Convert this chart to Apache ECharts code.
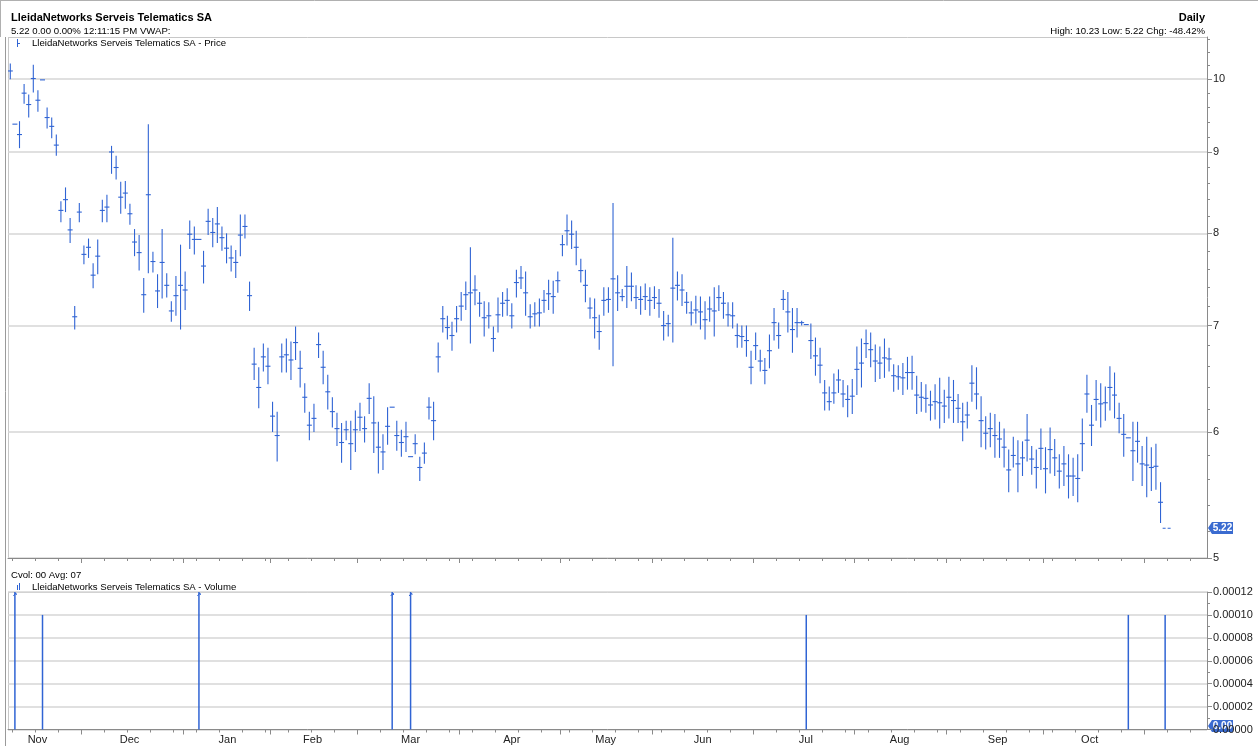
<!DOCTYPE html>
<html lang="en">
<head>
<meta charset="UTF-8">
<title>LleidaNetworks Serveis Telematics SA</title>
<style>
  html, body { margin: 0; padding: 0; background: #fff; }
  #main { width: 1258px; height: 746px; }
</style>
</head>
<body>
<div id="main"></div>
<script src="https://cdn.jsdelivr.net/npm/echarts@6/dist/echarts.min.js"></script>
<script>
// daily bars, one slot per trading day
var high = [10.23, 9.37, 9.41, 9.93, 9.78, 10.21, 9.84, 9.99, 9.60, 9.46,
  9.23, 8.38, 8.55, 8.18, 7.20, 8.36, 7.86, 7.94, 7.66, 7.93,
  8.40, 8.46, 9.08, 8.95, 8.62, 8.63, 8.35, 8.05, 7.98, 7.50,
  9.37, 7.79, 7.54, 8.05, 7.55, 7.25, 7.52, 7.87, 7.57, 8.15,
  8.08, 7.93, 7.80, 8.29, 8.18, 8.31, 8.08, 8.00, 7.86, 7.81,
  8.22, 8.22, 7.46, 6.78, 6.59, 6.82, 6.78, 6.27, 6.18, 6.82,
  6.87, 6.84, 6.99, 6.75, 6.44, 6.18, 6.25, 6.93, 6.75, 6.52,
  6.31, 6.17, 6.08, 6.10, 6.10, 6.19, 6.26, 6.14, 6.44, 6.32,
  6.09, 5.98, 6.22, 6.22, 6.10, 6.02, 6.09, 5.79, 5.98, 5.79,
  5.91, 6.31, 6.27, 6.83, 7.20, 7.10, 7.04, 7.20, 7.35, 7.46,
  7.84, 7.53, 7.35, 7.25, 7.24, 6.99, 7.29, 7.35, 7.39, 7.23,
  7.59, 7.63, 7.57, 7.22, 7.24, 7.28, 7.37, 7.48, 7.47, 7.57,
  7.98, 8.22, 8.15, 8.03, 7.71, 7.59, 7.29, 7.28, 7.11, 7.40,
  7.40, 8.36, 7.53, 7.38, 7.63, 7.56, 7.42, 7.41, 7.44, 7.40,
  7.41, 7.38, 7.15, 7.11, 7.95, 7.57, 7.54, 7.35, 7.25, 7.31,
  7.30, 7.25, 7.30, 7.40, 7.42, 7.35, 7.24, 7.24, 7.02, 7.00,
  7.00, 6.75, 6.93, 6.76, 6.68, 6.91, 7.18, 7.03, 7.37, 7.35,
  7.18, 7.18, 7.05, 7.01, 7.02, 6.88, 6.78, 6.47, 6.41, 6.53,
  6.57, 6.47, 6.42, 6.48, 6.79, 6.87, 6.96, 6.93, 6.81, 6.79,
  6.87, 6.78, 6.62, 6.61, 6.63, 6.69, 6.70, 6.51, 6.45, 6.43,
  6.37, 6.43, 6.49, 6.38, 6.50, 6.47, 6.34, 6.26, 6.27, 6.61,
  6.59, 6.32, 6.14, 6.17, 6.16, 6.09, 6.03, 5.85, 5.96, 5.93,
  5.92, 6.16, 5.88, 5.85, 6.03, 5.87, 6.04, 5.94, 5.81, 5.88,
  5.81, 5.78, 5.81, 6.12, 6.52, 6.24, 6.47, 6.44, 6.41, 6.60,
  6.54, 6.26, 6.16, 5.95, 6.09, 6.09, 5.88, 5.96, 5.87, 5.90,
  5.58, 5.22];
var low = [10.00, 9.37, 9.05, 9.65, 9.46, 9.81, 9.54, 9.99, 9.31, 9.18,
  8.95, 8.13, 8.25, 7.89, 6.96, 8.13, 7.65, 7.72, 7.39, 7.54,
  8.13, 8.13, 8.72, 8.65, 8.23, 8.29, 8.10, 7.74, 7.58, 7.13,
  7.55, 7.56, 7.18, 7.28, 7.29, 7.04, 7.10, 6.96, 7.16, 7.82,
  7.76, 7.93, 7.44, 7.98, 7.84, 7.89, 7.80, 7.66, 7.57, 7.50,
  7.74, 7.94, 7.15, 6.47, 6.21, 6.55, 6.43, 6.00, 5.75, 6.54,
  6.54, 6.47, 6.66, 6.40, 6.17, 5.93, 6.00, 6.68, 6.43, 6.20,
  6.04, 5.88, 5.74, 5.93, 5.68, 5.83, 6.01, 5.91, 6.16, 5.82,
  5.65, 5.68, 5.89, 6.22, 5.84, 5.79, 5.83, 5.79, 5.81, 5.59,
  5.73, 6.11, 5.93, 6.54, 6.93, 6.86, 6.75, 6.93, 7.05, 7.16,
  6.82, 7.21, 7.09, 6.89, 6.97, 6.74, 6.93, 7.09, 7.10, 6.97,
  7.29, 7.38, 7.10, 6.97, 6.99, 6.99, 7.13, 7.16, 7.12, 7.34,
  7.74, 7.86, 7.82, 7.64, 7.45, 7.24, 7.07, 6.87, 6.76, 7.10,
  7.13, 6.60, 7.15, 7.25, 7.18, 7.25, 7.17, 7.11, 7.16, 7.10,
  7.17, 7.08, 6.85, 6.89, 6.83, 7.26, 7.20, 7.12, 7.00, 7.02,
  6.96, 6.86, 7.04, 6.89, 7.15, 7.07, 6.99, 6.97, 6.78, 6.78,
  6.69, 6.43, 6.66, 6.55, 6.43, 6.58, 6.85, 6.77, 7.16, 6.93,
  6.73, 6.88, 7.00, 7.01, 6.67, 6.51, 6.44, 6.19, 6.19, 6.25,
  6.35, 6.22, 6.13, 6.16, 6.33, 6.40, 6.68, 6.59, 6.45, 6.48,
  6.49, 6.55, 6.36, 6.38, 6.33, 6.38, 6.38, 6.16, 6.18, 6.17,
  6.10, 6.11, 6.03, 6.08, 6.12, 6.08, 6.08, 5.92, 6.03, 6.27,
  6.20, 5.87, 5.85, 5.87, 5.78, 5.78, 5.70, 5.50, 5.70, 5.50,
  5.63, 5.75, 5.64, 5.53, 5.68, 5.49, 5.65, 5.63, 5.53, 5.55,
  5.45, 5.47, 5.42, 5.67, 6.17, 5.88, 6.10, 6.04, 6.10, 6.19,
  6.12, 5.99, 5.79, 5.95, 5.59, 5.74, 5.55, 5.46, 5.51, 5.52,
  5.26, 5.22];
var close = [10.12, 9.37, 9.23, 9.80, 9.64, 10.01, 9.70, 9.99, 9.46, 9.34,
  9.09, 8.27, 8.40, 8.04, 7.09, 8.25, 7.76, 7.84, 7.53, 7.74,
  8.27, 8.31, 9.00, 8.80, 8.43, 8.48, 8.23, 7.90, 7.78, 7.32,
  8.46, 7.68, 7.36, 7.67, 7.42, 7.15, 7.31, 7.42, 7.37, 7.99,
  7.93, 7.93, 7.63, 8.14, 8.01, 8.11, 7.95, 7.83, 7.72, 7.67,
  7.98, 8.08, 7.31, 6.62, 6.40, 6.69, 6.60, 6.14, 5.97, 6.69,
  6.71, 6.66, 6.83, 6.58, 6.31, 6.06, 6.12, 6.81, 6.59, 6.36,
  6.18, 6.03, 5.91, 6.02, 5.90, 6.02, 6.13, 6.03, 6.30, 6.08,
  5.87, 5.83, 6.05, 6.22, 5.97, 5.91, 5.96, 5.79, 5.90, 5.70,
  5.82, 6.22, 6.10, 6.69, 7.07, 6.98, 6.90, 7.07, 7.20, 7.32,
  7.34, 7.37, 7.23, 7.08, 7.10, 6.87, 7.11, 7.23, 7.26, 7.10,
  7.45, 7.50, 7.34, 7.09, 7.12, 7.13, 7.26, 7.33, 7.30, 7.47,
  7.87, 8.03, 7.99, 7.84, 7.58, 7.42, 7.18, 7.08, 6.94, 7.26,
  7.27, 7.49, 7.34, 7.30, 7.41, 7.41, 7.29, 7.27, 7.30, 7.26,
  7.29, 7.23, 7.00, 7.02, 7.39, 7.42, 7.37, 7.24, 7.13, 7.16,
  7.14, 7.06, 7.17, 7.15, 7.29, 7.23, 7.11, 7.10, 6.90, 6.89,
  6.85, 6.59, 6.80, 6.65, 6.56, 6.75, 7.03, 6.90, 7.27, 7.14,
  6.96, 7.03, 7.03, 7.01, 6.85, 6.70, 6.61, 6.35, 6.27, 6.35,
  6.47, 6.34, 6.29, 6.32, 6.57, 6.63, 6.82, 6.76, 6.65, 6.63,
  6.68, 6.67, 6.51, 6.50, 6.49, 6.54, 6.54, 6.33, 6.31, 6.30,
  6.24, 6.27, 6.26, 6.23, 6.31, 6.28, 6.21, 6.09, 6.15, 6.44,
  6.34, 6.10, 5.99, 6.03, 5.97, 5.94, 5.87, 5.68, 5.80, 5.73,
  5.78, 5.93, 5.77, 5.70, 5.86, 5.69, 5.85, 5.78, 5.67, 5.73,
  5.63, 5.63, 5.61, 5.90, 6.34, 6.06, 6.29, 6.25, 6.26, 6.40,
  6.33, 6.12, 5.98, 5.95, 5.84, 5.92, 5.73, 5.72, 5.70, 5.71,
  5.42, 5.22];

// volume: only a handful of days traded
var volDay = [1, 7, 41, 83, 87, 173, 243, 251];
var volume = [0.0002, 0.0001, 0.0002, 0.0002, 0.0002, 0.0001, 0.0001, 0.0001];

var monthNames = ['Nov', 'Dec', 'Jan', 'Feb', 'Mar', 'Apr', 'May', 'Jun', 'Jul', 'Aug', 'Sep', 'Oct'];
var monthMid = [5.9, 25.9, 47.2, 65.7, 87, 109, 129.4, 150.5, 172.9, 193.3, 214.6, 234.6];
var monthStart = [15.5, 37.5, 56.5, 75.5, 97.5, 119.5, 139.5, 161.5, 183.5, 203.5, 224.5, 246.5];
var priceTicks = [5, 6, 7, 8, 9, 10];
var priceMinor = [5.2, 5.4, 5.6, 5.8, 6.2, 6.4, 6.6, 6.8, 7.2, 7.4, 7.6, 7.8,
  8.2, 8.4, 8.6, 8.8, 9.2, 9.4, 9.6, 9.8, 10.2, 10.4, 10.6];
var volMax = 0.00012;

var lastPrice = 5.22;
var FONT = '"Liberation Sans", Arial, sans-serif';
var BLUE = '#3064d4';
var X_MIN = -0.5, X_MAX = 260.1;

// weekly minor ticks on the time axis
var weekTicks = [];
for (var w = 0; w < 52; w++) {
  weekTicks.push(0.5 + 5 * w + (w >= 24 ? 1 : 0));
}

var bars = [];
for (var i = 0; i < high.length; i++) {
  bars.push([i, high[i], low[i], close[i]]);
}
var vols = [];
for (var k = 0; k < volDay.length; k++) {
  vols.push([volDay[k], volume[k]]);
}

var chart = echarts.init(document.getElementById('main'));

function renderBar(params, api) {
  var i = api.value(0);
  var h = api.coord([i, api.value(1)]);
  var l = api.coord([i, api.value(2)]);
  var c = api.coord([i, api.value(3)]);
  var x = h[0];
  var last = params.dataIndex === high.length - 1;
  var kids = [];
  if (l[1] - h[1] > 0.5) {
    kids.push({ type: 'line', shape: { x1: x, y1: h[1], x2: x, y2: l[1] },
      style: { stroke: BLUE, lineWidth: 1.1 } });
  }
  kids.push({ type: 'line',
    shape: { x1: x - 2.5, y1: c[1], x2: last ? x + 7 : x + 2.5, y2: c[1] },
    style: { stroke: BLUE, lineWidth: 1.1, lineDash: last ? [3, 2] : null } });
  return { type: 'group', children: kids };
}

// little up-arrow on volume bars that run past the top of the panel
function renderClip(params, api) {
  if (api.value(1) <= volMax) return null;
  var p = api.coord([api.value(0), volMax]);
  return { type: 'polyline', shape: { points: [[p[0] - 1.5, p[1] + 4], [p[0] + 1, p[1] + 1], [p[0] + 1.5, p[1] + 3]] },
    style: { stroke: BLUE, lineWidth: 1, fill: null } };
}

var axisGrey = '#8a8a8a';
var gridGrey = '#d6d6d6';

function timeAxis(grid, ticks, len, withLine, labels) {
  return {
    type: 'value', gridIndex: grid, min: X_MIN, max: X_MAX, position: 'bottom', offset: 0,
    axisLine: { show: withLine, onZero: false, lineStyle: { color: axisGrey } },
    axisTick: { show: true, customValues: ticks, length: len, lineStyle: { color: axisGrey } },
    axisLabel: labels || { show: false },
    splitLine: { show: false }
  };
}

var monthLabels = {
  show: true, customValues: monthMid, margin: 5,
  color: '#222', fontSize: 11, fontFamily: FONT,
  formatter: function (v) {
    var best = 0;
    for (var m = 0; m < monthMid.length; m++) {
      if (Math.abs(monthMid[m] - v) < Math.abs(monthMid[best] - v)) best = m;
    }
    return monthNames[best];
  }
};

var option = {
  animation: false,
  backgroundColor: '#fff',
  textStyle: { fontFamily: FONT },
  grid: [
    { left: 8, top: 37, width: 1199, height: 521 },
    { left: 8, top: 592, width: 1199, height: 137.5 }
  ],
  xAxis: [
    timeAxis(0, monthStart, 5, true),
    timeAxis(1, monthStart, 5, true, monthLabels),
    timeAxis(0, weekTicks, 3, false),
    timeAxis(1, weekTicks, 3, false)
  ],
  yAxis: [
    {
      type: 'log', logBase: 10, gridIndex: 0, position: 'right', min: 5, max: 10.63,
      axisLine: { show: true, onZero: false, lineStyle: { color: axisGrey } },
      axisTick: { show: true, customValues: priceTicks, length: 5, lineStyle: { color: axisGrey } },
      axisLabel: { show: true, customValues: priceTicks, margin: 6, color: '#222', fontSize: 11, fontFamily: FONT },
      splitLine: { show: true, lineStyle: { color: gridGrey, width: 1.5 } }
    },
    {
      type: 'value', gridIndex: 1, position: 'right', min: 0, max: volMax, interval: 0.00002,
      axisLine: { show: true, onZero: false, lineStyle: { color: axisGrey } },
      axisTick: { show: true, length: 5, lineStyle: { color: axisGrey } },
      minorTick: { show: true, splitNumber: 2, length: 3, lineStyle: { color: axisGrey } },
      axisLabel: {
        show: true, margin: 6, color: '#222', fontSize: 11, fontFamily: FONT,
        formatter: function (v) { return v.toFixed(5); }
      },
      splitLine: { show: true, lineStyle: { color: gridGrey, width: 1.5 } }
    },
    {
      type: 'log', logBase: 10, gridIndex: 0, position: 'right', offset: 0, min: 5, max: 10.63,
      axisLine: { show: false, onZero: false },
      axisTick: { show: true, customValues: priceMinor, length: 3, lineStyle: { color: axisGrey } },
      axisLabel: { show: false },
      splitLine: { show: false }
    }
  ],
  series: [
    {
      name: 'Price', type: 'custom', xAxisIndex: 0, yAxisIndex: 0,
      renderItem: renderBar, data: bars, clip: true
    },
    {
      name: 'Volume', type: 'bar', xAxisIndex: 1, yAxisIndex: 1,
      data: vols, barWidth: 1.5, clip: true,
      itemStyle: { color: BLUE }
    },
    {
      name: 'Volume clip', type: 'custom', xAxisIndex: 1, yAxisIndex: 1,
      renderItem: renderClip, data: vols, clip: false, z: 5
    }
  ],
  graphic: [
    { type: 'line', shape: { x1: 8, y1: 37.5, x2: 1207, y2: 37.5 }, style: { stroke: '#c8c8c8', lineWidth: 1 } },
    { type: 'line', shape: { x1: 8.5, y1: 37, x2: 8.5, y2: 558 }, style: { stroke: '#c8c8c8', lineWidth: 1 } },
    { type: 'line', shape: { x1: 8, y1: 592.5, x2: 1207, y2: 592.5 }, style: { stroke: '#c8c8c8', lineWidth: 1 } },
    { type: 'line', shape: { x1: 8.5, y1: 592, x2: 8.5, y2: 730 }, style: { stroke: '#c8c8c8', lineWidth: 1 } },
    { type: 'line', shape: { x1: 5.5, y1: 37, x2: 5.5, y2: 746 }, style: { stroke: '#9a9a9a', lineWidth: 1 } },
    { type: 'line', shape: { x1: 0, y1: 0.5, x2: 1258, y2: 0.5 }, style: { stroke: '#b0b0b0', lineWidth: 1 } },
    { type: 'line', shape: { x1: 0.5, y1: 0, x2: 0.5, y2: 37 }, style: { stroke: '#b0b0b0', lineWidth: 1 } },
    { type: 'text', x: 11, y: 18, style: { text: 'LleidaNetworks Serveis Telematics SA', font: 'bold 11px ' + FONT, fill: '#000', verticalAlign: 'middle' } },
    { type: 'text', x: 11, y: 31, style: { text: '5.22 0.00 0.00% 12:11:15 PM VWAP:', font: '9.6px ' + FONT, fill: '#000', verticalAlign: 'middle' } },
    { type: 'text', x: 1205, y: 18, style: { text: 'Daily', font: 'bold 11px ' + FONT, fill: '#000', align: 'right', verticalAlign: 'middle' } },
    { type: 'text', x: 1205, y: 31, style: { text: 'High: 10.23 Low: 5.22 Chg: -48.42%', font: '9.6px ' + FONT, fill: '#000', align: 'right', verticalAlign: 'middle' } },
    { type: 'line', shape: { x1: 17.5, y1: 39, x2: 17.5, y2: 47 }, style: { stroke: BLUE, lineWidth: 1 } },
    { type: 'line', shape: { x1: 17, y1: 43.5, x2: 20, y2: 43.5 }, style: { stroke: BLUE, lineWidth: 1 } },
    { type: 'text', x: 32, y: 43, style: { text: 'LleidaNetworks Serveis Telematics SA - Price', font: '9.6px ' + FONT, fill: '#000', verticalAlign: 'middle' } },
    { type: 'text', x: 11, y: 575, style: { text: 'Cvol: 00 Avg: 07', font: '9.6px ' + FONT, fill: '#000', verticalAlign: 'middle' } },
    { type: 'rect', shape: { x: 17, y: 585, width: 1, height: 5 }, style: { fill: BLUE } },
    { type: 'rect', shape: { x: 19, y: 583, width: 1, height: 7 }, style: { fill: BLUE } },
    { type: 'text', x: 32, y: 587, style: { text: 'LleidaNetworks Serveis Telematics SA - Volume', font: '9.6px ' + FONT, fill: '#000', verticalAlign: 'middle' } }
  ]
};

chart.setOption(option);

// value tags on the right axes, placed through the axis scales
function tag(yPix, text) {
  return {
    type: 'group', x: 1208, y: Math.round(yPix),
    children: [
      { type: 'polygon', shape: { points: [[0, 0], [4, -6], [25, -6], [25, 6], [4, 6]] }, style: { fill: '#3a6bd0' } },
      { type: 'text', x: 14.5, y: 0.5, style: { text: text, font: 'bold 10px ' + FONT, fill: '#fff', align: 'center', verticalAlign: 'middle' } }
    ]
  };
}
var yLast = chart.convertToPixel({ yAxisIndex: 0 }, lastPrice);
var yVol0 = chart.convertToPixel({ yAxisIndex: 1 }, 0);
var g = option.graphic.slice();
g.push(tag(yLast, lastPrice.toFixed(2)));
g.push(tag(yVol0 - 4, '0.00'));
chart.setOption({ graphic: g });
</script>
</body>
</html>
